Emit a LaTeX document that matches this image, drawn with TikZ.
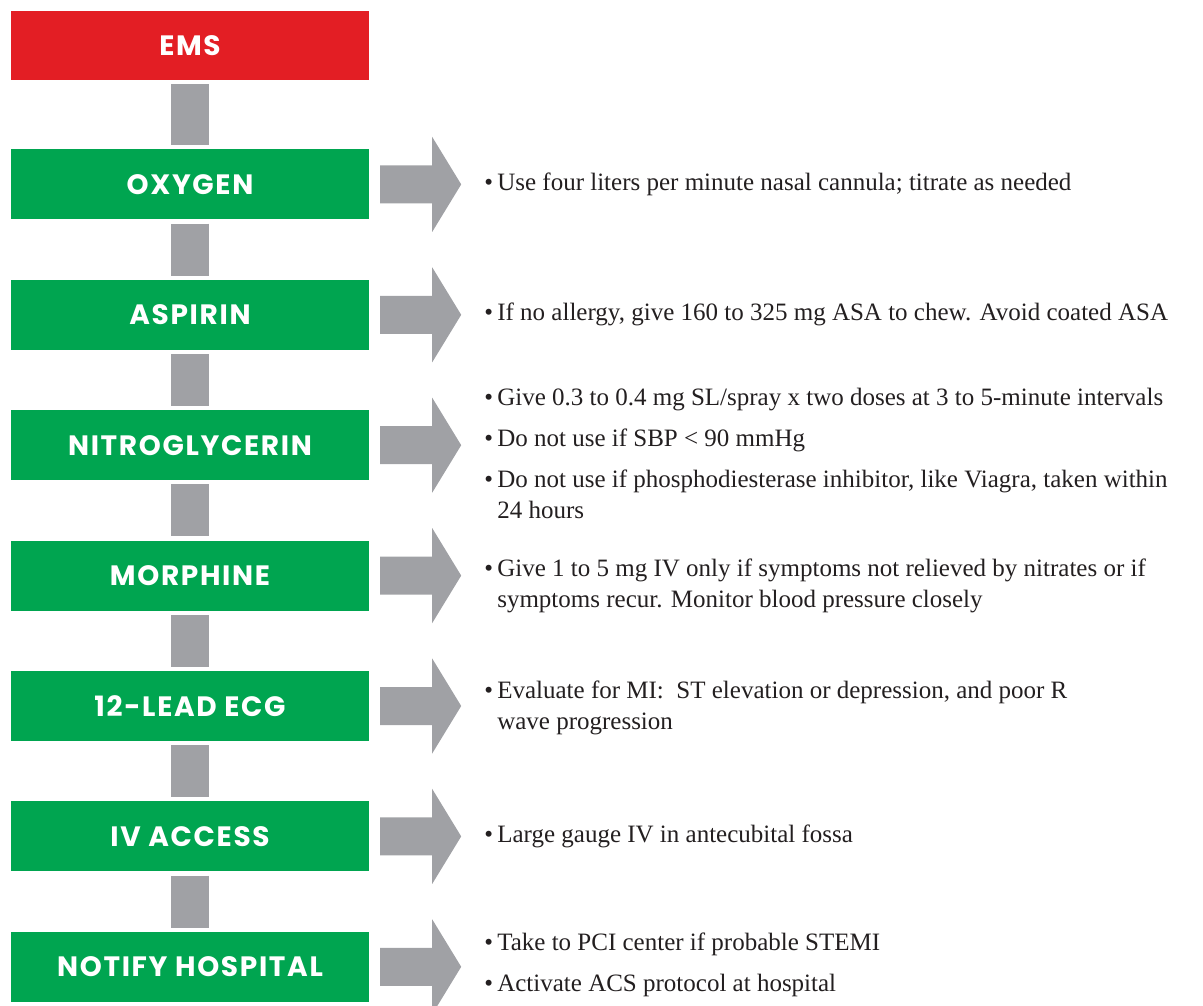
\documentclass[tikz,border=0pt]{standalone}
\usepackage{fontspec}
\setmainfont{Liberation Serif}
\newfontfamily\labelfont{Poppins}[LetterSpace=6]
\usepackage{tikz}
\usetikzlibrary{calc,positioning}

\definecolor{emsred}{RGB}{227,30,36}
\definecolor{stepgreen}{RGB}{0,165,80}
\definecolor{linkgray}{RGB}{160,161,165}
\definecolor{notetext}{RGB}{35,31,32}

% side arrow pointing from a step box to its notes
\newcommand{\sidearrow}[1]{%
  \fill [linkgray] ($(#1.east)+(11,-19)$) -- ++(52,0) -- ++(0,-28.5) -- ++(29,47.5)
    -- ++(-29,47.5) -- ++(0,-28.5) -- ++(-52,0) -- cycle;}
\newcommand{\bul}{\textbullet\,}
\newcommand{\hang}{\phantom{\textbullet\,}}

\begin{document}
\begin{tikzpicture}[x=1pt, y=-1pt]
\tikzstyle{stepbox}=[fill=stepgreen, text=white, minimum width=358pt, minimum height=70pt, inner sep=0pt, font=\labelfont\bfseries\fontsize{28}{28}\selectfont]
\tikzstyle{link}=[draw=linkgray, line width=38pt, shorten <=4pt, shorten >=4pt]
\tikzstyle{notes}=[anchor=west, align=left, inner sep=0pt, text=notetext, font=\fontsize{25}{31}\selectfont]

\useasboundingbox (0,0) rectangle (1203,1006);

\node [stepbox, fill=emsred, minimum height=69pt] (ems) at (190,45.5) {EMS};
\node [stepbox, below=69pt of ems] (oxygen) {OXYGEN};
\node [stepbox, below=60pt of oxygen] (aspirin) {ASPIRIN};
\node [stepbox, below=60pt of aspirin] (nitro) {NITROGLYCERIN};
\node [stepbox, below=60pt of nitro] (morphine) {MORPHINE};
\node [stepbox, below=60pt of morphine] (ecg) {12-LEAD ECG};
\node [stepbox, below=60pt of ecg] (iv) {IV ACCESS};
\node [stepbox, below=60pt of iv] (notify) {NOTIFY HOSPITAL};

\draw [link] (ems) -- (oxygen);
\draw [link] (oxygen) -- (aspirin);
\draw [link] (aspirin) -- (nitro);
\draw [link] (nitro) -- (morphine);
\draw [link] (morphine) -- (ecg);
\draw [link] (ecg) -- (iv);
\draw [link] (iv) -- (notify);

\sidearrow{oxygen}
\sidearrow{aspirin}
\sidearrow{nitro}
\sidearrow{morphine}
\sidearrow{ecg}
\sidearrow{iv}
\sidearrow{notify}

\node [notes, right=115pt of oxygen] (oxytxt) {\bul Use four liters per minute nasal cannula; titrate as needed};
\node [notes, right=115pt of aspirin] (asptxt) {\bul If no allergy, give 160 to 325 mg ASA to chew. Avoid coated ASA};
\node [notes, right=115pt of nitro, yshift=-8pt] (nitrotxt) {\bul Give 0.3 to 0.4 mg SL/spray x two doses at 3 to 5-minute intervals\\[10pt]
  \bul Do not use if SBP < 90 mmHg\\[10pt]
  \bul Do not use if phosphodiesterase inhibitor, like Viagra, taken within\\
  \hang 24 hours};
\node [notes, right=115pt of morphine, yshift=-10pt] (morphtxt) {\bul Give 1 to 5 mg IV only if symptoms not relieved by nitrates or if\\
  \hang symptoms recur. Monitor blood pressure closely};
\node [notes, right=115pt of ecg, yshift=-2pt] (ecgtxt) {\bul Evaluate for MI:\ \ ST elevation or depression, and poor R\\
  \hang wave progression};
\node [notes, right=115pt of iv] (ivtxt) {\bul Large gauge IV in antecubital fossa};
\node [notes, right=115pt of notify, yshift=2pt] (notifytxt) {\bul Take to PCI center if probable STEMI\\[10pt]
  \bul Activate ACS protocol at hospital};

\end{tikzpicture}
\end{document}
